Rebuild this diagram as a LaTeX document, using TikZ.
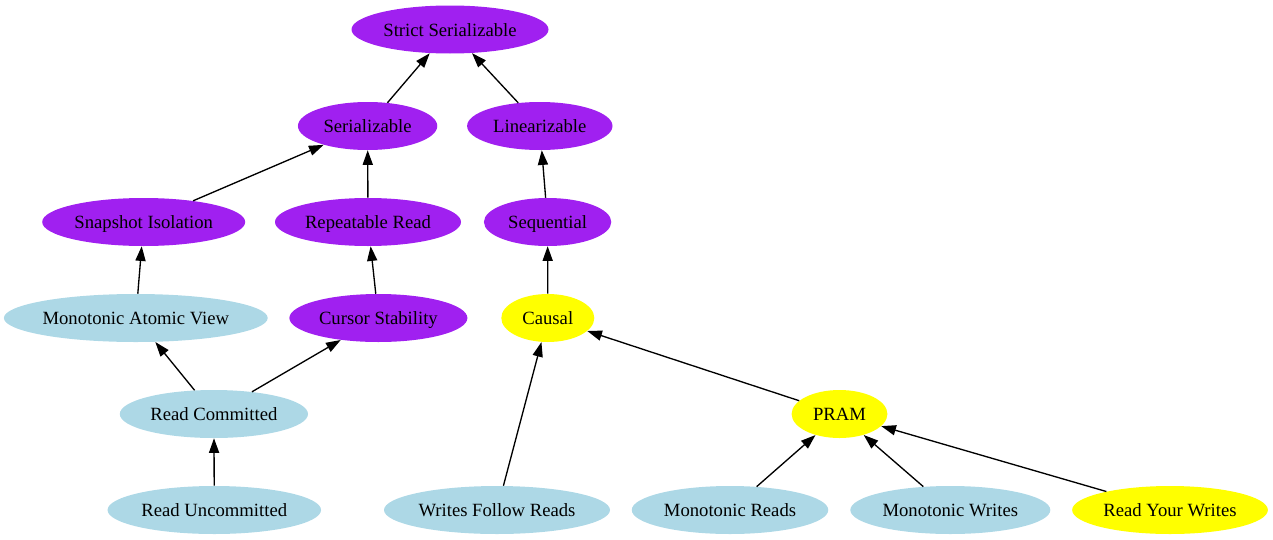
\documentclass[tikz,border=0pt]{standalone}
\usepackage{fontspec}
\setmainfont{Liberation Serif}
\usetikzlibrary{shapes.geometric,arrows.meta}
\definecolor{gvpurple}{HTML}{A020F0}
\definecolor{gvblue}{HTML}{ADD8E6}
\definecolor{gvyellow}{HTML}{FFFF00}
\begin{document}
\begin{tikzpicture}[x=0.75pt,y=-0.75pt,
  gvnode/.style={ellipse,inner sep=0pt,minimum height=36pt,draw=none,
    text height=11.8pt,text depth=2pt,
    font=\fontsize{14pt}{16pt}\selectfont,text=black},
  pnode/.style={gvnode,fill=gvpurple},
  bnode/.style={gvnode,fill=gvblue},
  ynode/.style={gvnode,fill=gvyellow},
  edge/.style={draw=black,line width=1pt,-{Triangle[length=11pt,width=7.6pt]}}]
\useasboundingbox (0,0) rectangle (1273,539);
% rank 1
\node[pnode,minimum width={197*0.75pt}] (ss) at (450,29.5) {Strict Serializable};
% rank 2
\node[pnode,minimum width={139.3*0.75pt}] (ser) at (367.6,126) {Serializable};
\node[pnode,minimum width={145.4*0.75pt}] (lin) at (539.8,126) {Linearizable};
% rank 3
\node[pnode,minimum width={203*0.75pt}] (si) at (143.7,222) {Snapshot Isolation};
\node[pnode,minimum width={186*0.75pt}] (rr) at (368,222) {Repeatable Read};
\node[pnode,minimum width={127.4*0.75pt}] (seq) at (547.6,222) {Sequential};
% rank 4
\node[bnode,minimum width={262.2*0.75pt}] (mav) at (135.8,318) {Monotonic Atomic View};
\node[pnode,minimum width={178*0.75pt}] (cs) at (378.4,318) {Cursor Stability};
\node[ynode,minimum width={93*0.75pt}] (cau) at (547.8,318) {Causal};
% rank 5
\node[bnode,minimum width={188.2*0.75pt}] (rc) at (213.9,414) {Read Committed};
\node[ynode,minimum width={95.8*0.75pt}] (pram) at (839.5,414) {PRAM};
% rank 6
\node[bnode,minimum width={213.5*0.75pt}] (ru) at (214.3,510) {Read Uncommitted};
\node[bnode,minimum width={226*0.75pt}] (wfr) at (497,510) {Writes Follow Reads};
\node[bnode,minimum width={196.5*0.75pt}] (mr) at (730,510) {Monotonic Reads};
\node[bnode,minimum width={200*0.75pt}] (mw) at (950.3,510) {Monotonic Writes};
\node[ynode,minimum width={195.7*0.75pt}] (ryw) at (1170,510) {Read Your Writes};
% edges
\draw[edge] (ser) -- (ss);
\draw[edge] (lin) -- (ss);
\draw[edge] (si) -- (ser);
\draw[edge] (rr) -- (ser);
\draw[edge] (seq) -- (lin);
\draw[edge] (mav) -- (si);
\draw[edge] (cs) -- (rr);
\draw[edge] (cau) -- (seq);
\draw[edge] (rc) -- (mav);
\draw[edge] (rc) -- (cs);
\draw[edge] (pram) -- (cau);
\draw[edge] (wfr) -- (cau);
\draw[edge] (ru) -- (rc);
\draw[edge] (mr) -- (pram);
\draw[edge] (mw) -- (pram);
\draw[edge] (ryw) -- (pram);
\end{tikzpicture}
\end{document}
